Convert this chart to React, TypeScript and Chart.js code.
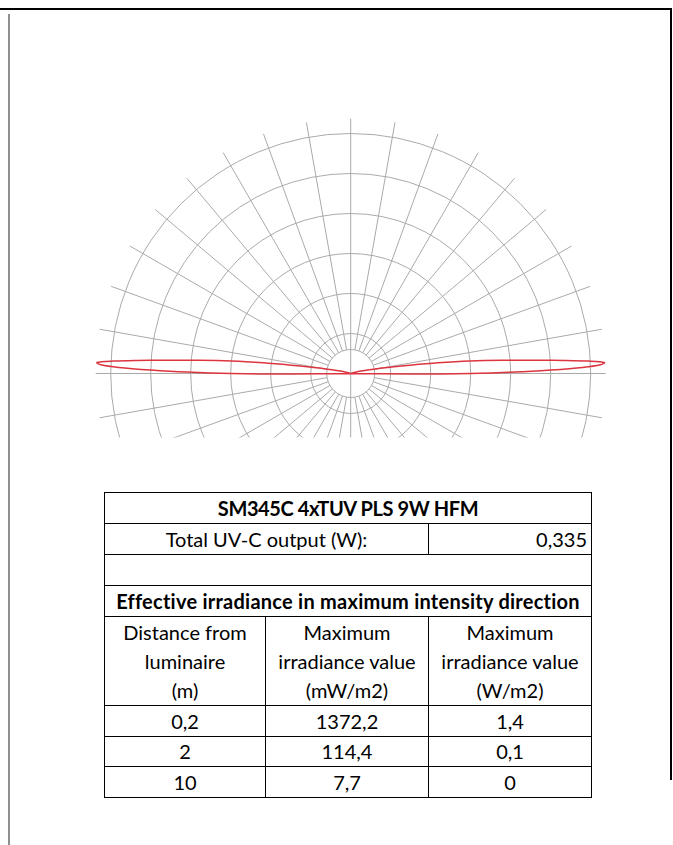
import React, { useEffect, useRef } from "react";
import { Chart, registerables } from "chart.js";

Chart.register(...registerables);

// ---- Polar diagram data ----
// Grid rings (relative intensity units) and spokes (degrees)
const RING_VALUES = [0.6, 1, 2, 3, 4, 5, 6];
const SPOKE_ANGLES = [0, 10, 20, 30, 40, 50, 60, 70, 80, 90, 100, 110, 120, 130, 140, 150, 160, 170,
  180, 190, 200, 210, 220, 230, 240, 250, 260, 270, 280, 290, 300, 310, 320, 330, 340, 350];
const SPOKE_INNER = 0.6;
const SPOKE_OUTER = 6.375;

// Intensity distribution: angle above horizontal (deg) and relative intensity
const LOBE_ANGLES = [-1, -0.5, 0, 0.5, 1, 1.5, 2, 2.5, 3, 3.5, 4, 5, 6, 7, 8, 10, 12, 15, 20];
const LOBE_INTENSITY = [0, 1.5, 3.0, 4.1, 5.0, 5.8, 6.25, 6.35, 5.95, 5.35, 4.75, 3.8, 3.0, 2.2, 1.5, 0.8, 0.4, 0.2, 0];

// ---- Table data ----
const TITLE = "SM345C 4xTUV PLS 9W HFM";
const OUTPUT_LABEL = "Total UV-C output (W):";
const OUTPUT_VALUE = "0,335";
const SECTION_TITLE = "Effective irradiance in maximum intensity direction";
const HEADERS = [
  ["Distance from", "luminaire", "(m)"],
  ["Maximum", "irradiance value", "(mW/m2)"],
  ["Maximum", "irradiance value", "(W/m2)"],
];
const DISTANCES = ["0,2", "2", "10"];
const IRRADIANCE_MW = ["1372,2", "114,4", "7,7"];
const IRRADIANCE_W = ["1,4", "0,1", "0"];

const GRID_COLOR = "#aaaaaa";
const CURVE_COLOR = "#dc3540";

const toRad = (d: number) => (d * Math.PI) / 180;

function buildCurve() {
  const pts: { x: number; y: number }[] = [];
  // right-hand lobe
  for (let i = 0; i < LOBE_ANGLES.length; i++) {
    const a = toRad(LOBE_ANGLES[i]);
    pts.push({ x: LOBE_INTENSITY[i] * Math.cos(a), y: LOBE_INTENSITY[i] * Math.sin(a) });
  }
  // left-hand lobe (mirror plane)
  for (let i = LOBE_ANGLES.length - 1; i >= 0; i--) {
    const a = toRad(180 - LOBE_ANGLES[i]);
    pts.push({ x: LOBE_INTENSITY[i] * Math.cos(a), y: LOBE_INTENSITY[i] * Math.sin(a) });
  }
  return pts;
}

const polarGrid = {
  id: "polarGrid",
  beforeDatasetsDraw(chart: any) {
    const { ctx, chartArea, scales } = chart;
    const xs = scales.x;
    const ys = scales.y;
    const cx = xs.getPixelForValue(0);
    const cy = ys.getPixelForValue(0);
    const unit = xs.getPixelForValue(1) - cx;
    ctx.save();
    ctx.beginPath();
    ctx.rect(chartArea.left, chartArea.top, chartArea.right - chartArea.left, chartArea.bottom - chartArea.top);
    ctx.clip();
    ctx.strokeStyle = GRID_COLOR;
    ctx.lineWidth = 1;
    for (const r of RING_VALUES) {
      ctx.beginPath();
      ctx.arc(cx, cy, r * unit, 0, Math.PI * 2);
      ctx.stroke();
    }
    for (const ang of SPOKE_ANGLES) {
      const a = toRad(ang);
      const inner = ang % 90 === 0 ? 0 : SPOKE_INNER;
      ctx.beginPath();
      ctx.moveTo(cx + inner * unit * Math.cos(a), cy - inner * unit * Math.sin(a));
      ctx.lineTo(cx + SPOKE_OUTER * unit * Math.cos(a), cy - SPOKE_OUTER * unit * Math.sin(a));
      ctx.stroke();
    }
    ctx.restore();
  },
};

const FONT = "Lato, 'Open Sans', sans-serif";

const cellBase: React.CSSProperties = {
  border: "1px solid #000",
  padding: 0,
  textAlign: "center",
  verticalAlign: "middle",
  lineHeight: "29px",
  whiteSpace: "nowrap",
  overflow: "hidden",
};

export default function App() {
  const canvasRef = useRef<HTMLCanvasElement | null>(null);

  useEffect(() => {
    if (!canvasRef.current) return;
    const chart = new Chart(canvasRef.current, {
      type: "scatter",
      data: {
        datasets: [
          {
            data: buildCurve(),
            showLine: true,
            borderColor: CURVE_COLOR,
            borderWidth: 1.5,
            pointRadius: 0,
            tension: 0.3,
            fill: false,
          } as any,
        ],
      },
      options: {
        animation: false,
        responsive: false,
        maintainAspectRatio: false,
        devicePixelRatio: 1,
        layout: { padding: { left: 94.7, right: 66.3, top: 117.5, bottom: 12.5 } },
        scales: {
          x: { type: "linear", min: -6.4, max: 6.4, display: false },
          y: { type: "linear", min: -1.6, max: 6.4, display: false },
        },
        plugins: { legend: { display: false }, tooltip: { enabled: false } },
        events: [],
      },
      plugins: [polarGrid],
    });
    return () => chart.destroy();
  }, []);

  const rowH = [31, 31, 31, 31, 89, 31, 30, 31];

  return (
    <div style={{ position: "absolute", left: 0, top: 0, width: 673, height: 845, overflow: "hidden", background: "#fff" }}>
      {/* page frame lines */}
      <div style={{ position: "absolute", left: 0, top: 8, width: 672, height: 2, background: "#000" }} />
      <div style={{ position: "absolute", left: 670, top: 8, width: 1.5, height: 772, background: "#000" }} />
      <div style={{ position: "absolute", left: 8, top: 14, width: 2, height: 831, background: "#8f8f8f" }} />

      <canvas
        ref={canvasRef}
        width={673}
        height={450}
        style={{ position: "absolute", left: 0, top: 0, width: 673, height: 450 }}
      />

      <table
        style={{
          position: "absolute",
          left: 104,
          top: 492,
          width: 487,
          borderCollapse: "collapse",
          tableLayout: "fixed",
          fontFamily: FONT,
          fontSize: 20,
          color: "#000",
        }}
      >
        <colgroup>
          <col style={{ width: 161 }} />
          <col style={{ width: 163 }} />
          <col style={{ width: 163 }} />
        </colgroup>
        <tbody>
          <tr style={{ height: rowH[0] }}>
            <td colSpan={3} style={{ ...cellBase, fontWeight: 700, letterSpacing: -0.4 }}>{TITLE}</td>
          </tr>
          <tr style={{ height: rowH[1] }}>
            <td colSpan={2} style={cellBase}>{OUTPUT_LABEL}</td>
            <td style={{ ...cellBase, textAlign: "right", paddingRight: 4 }}>{OUTPUT_VALUE}</td>
          </tr>
          <tr style={{ height: rowH[2] }}>
            <td colSpan={3} style={cellBase}></td>
          </tr>
          <tr style={{ height: rowH[3] }}>
            <td colSpan={3} style={{ ...cellBase, fontWeight: 700, letterSpacing: 0.25 }}>{SECTION_TITLE}</td>
          </tr>
          <tr style={{ height: rowH[4] }}>
            {HEADERS.map((lines, i) => (
              <td key={i} style={cellBase}>
                {lines.map((l, j) => (
                  <div key={j}>{l}</div>
                ))}
              </td>
            ))}
          </tr>
          {DISTANCES.map((d, i) => (
            <tr key={i} style={{ height: rowH[5 + i] }}>
              <td style={cellBase}>{d}</td>
              <td style={cellBase}>{IRRADIANCE_MW[i]}</td>
              <td style={cellBase}>{IRRADIANCE_W[i]}</td>
            </tr>
          ))}
        </tbody>
      </table>
    </div>
  );
}
